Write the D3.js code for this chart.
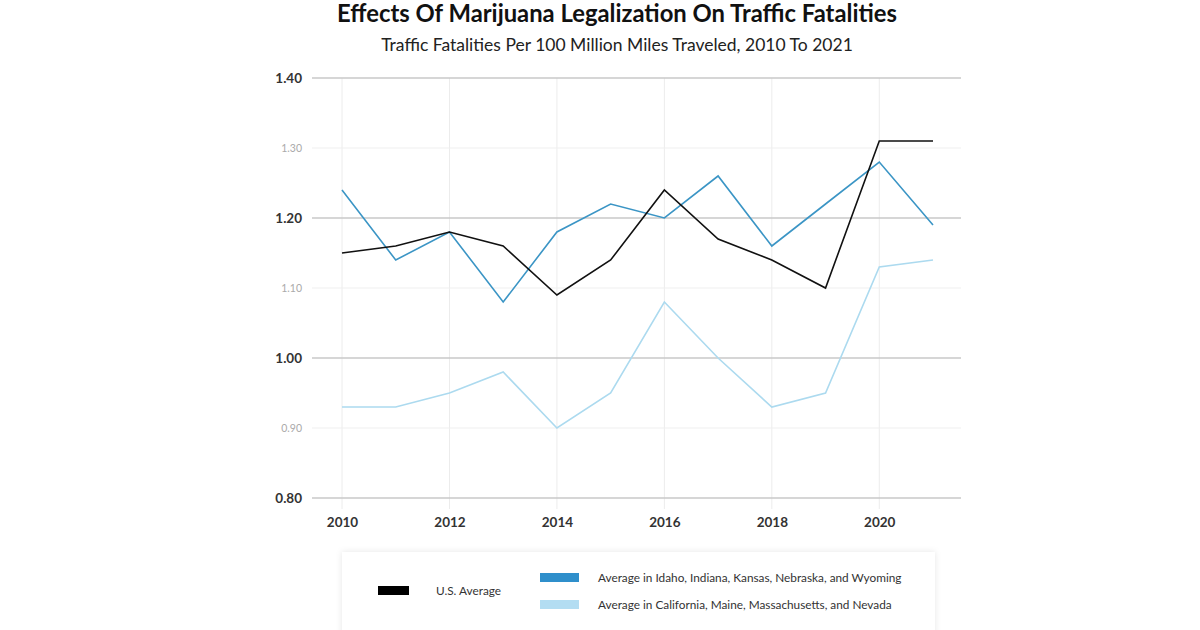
<!DOCTYPE html>
<html><head><meta charset="utf-8">
<script src="https://cdn.jsdelivr.net/npm/d3@7"></script>
<style>
html,body{margin:0;padding:0;background:#fff;}
svg{display:block;font-family:Lato,"Open Sans",sans-serif;}
</style></head>
<body><svg id="c" width="1200" height="630"></svg>
<script>
const years = [2010,2011,2012,2013,2014,2015,2016,2017,2018,2019,2020,2021];
const usAverage = [1.15,1.16,1.18,1.16,1.09,1.14,1.24,1.17,1.14,1.10,1.31,1.31];
const nonLegal = [1.24,1.14,1.18,1.08,1.18,1.22,1.20,1.26,1.16,1.22,1.28,1.19];
const legal = [0.93,0.93,0.95,0.98,0.90,0.95,1.08,1.00,0.93,0.95,1.13,1.14];
const yTicks = [0.80,0.90,1.00,1.10,1.20,1.30,1.40];
const xTicks = [2010,2012,2014,2016,2018,2020];
const seriesNames = ["U.S. Average","Average in Idaho, Indiana, Kansas, Nebraska, and Wyoming","Average in California, Maine, Massachusetts, and Nevada"];
const title = "Effects Of Marijuana Legalization On Traffic Fatalities";
const subtitle = "Traffic Fatalities Per 100 Million Miles Traveled, 2010 To 2021";

const svg = d3.select("#c");
const x = d3.scaleLinear().domain([2010,2021]).range([342,933]);
const y = d3.scaleLinear().domain([0.8,1.4]).range([498,78]);

svg.append("text").attr("x",617).attr("y",22).attr("text-anchor","middle")
  .attr("font-size",23.8).attr("font-weight",700).attr("fill","#111").text(title);
svg.append("text").attr("x",617).attr("y",51).attr("text-anchor","middle")
  .attr("font-size",17.5).attr("fill","#222").text(subtitle);

const isMajor = v => Math.round(v*10)%2===0;

// vertical gridlines
svg.append("g").selectAll("line").data(xTicks).join("line")
  .attr("x1",d=>x(d)).attr("x2",d=>x(d)).attr("y1",78).attr("y2",509)
  .attr("stroke","#ececec").attr("stroke-width",1);

// horizontal gridlines
svg.append("g").selectAll("line").data(yTicks).join("line")
  .attr("x1",312).attr("x2",961).attr("y1",d=>y(d)).attr("y2",d=>y(d))
  .attr("stroke",d=>isMajor(d)?"#c8c8c8":"#efefef").attr("stroke-width",d=>isMajor(d)?1.3:1);

// y axis labels
const ya = svg.append("g").attr("transform","translate(302,0)")
  .call(d3.axisLeft(y).tickValues(yTicks).tickSize(0).tickPadding(0).tickFormat(d3.format(".2f")));
ya.select(".domain").remove();
ya.selectAll("text").attr("font-family","Lato,sans-serif")
  .attr("font-size",d=>isMajor(d)?13.5:10.5)
  .attr("font-weight",d=>isMajor(d)?700:400)
  .attr("fill",d=>isMajor(d)?"#333":"#aaa");

// x axis labels
const xa = svg.append("g").attr("transform","translate(0,517)")
  .call(d3.axisBottom(x).tickValues(xTicks).tickSize(0).tickPadding(0).tickFormat(d3.format("d")));
xa.select(".domain").remove();
xa.selectAll("text").attr("font-family","Lato,sans-serif").attr("font-size",13.5)
  .attr("font-weight",700).attr("fill","#333");

const line = d3.line().x((d,i)=>x(years[i])).y(d=>y(d));
const series = [
  {vals:legal,color:"#acdaef",w:1.6},
  {vals:nonLegal,color:"#3b95c5",w:1.6},
  {vals:usAverage,color:"#111",w:1.6}
];
svg.append("g").selectAll("path").data(series).join("path")
  .attr("d",d=>line(d.vals)).attr("fill","none")
  .attr("stroke",d=>d.color).attr("stroke-width",d=>d.w).attr("stroke-linejoin","miter");

// legend
const defs = svg.append("defs");
const f = defs.append("filter").attr("id","sh").attr("x","-10%").attr("y","-30%").attr("width","120%").attr("height","160%");
f.append("feDropShadow").attr("dx",0).attr("dy",0).attr("stdDeviation",3).attr("flood-color","#000").attr("flood-opacity",0.1);
svg.append("rect").attr("x",342).attr("y",552).attr("width",593).attr("height",90)
  .attr("fill","#fff").attr("filter","url(#sh)");

const legendItems = [
  {name:seriesNames[0],color:"#000",rx:378,ry:586,tx:436,ty:595},
  {name:seriesNames[1],color:"#2f8fcb",rx:540,ry:573,tx:598,ty:582},
  {name:seriesNames[2],color:"#b3ddf2",rx:540,ry:600,tx:598,ty:609}
];
const lg = svg.append("g").selectAll("g").data(legendItems).join("g");
lg.append("rect").attr("x",d=>d.rx).attr("y",d=>d.ry).attr("width",d=>d.rx===378?31:39).attr("height",9).attr("fill",d=>d.color);
lg.append("text").attr("x",d=>d.tx).attr("y",d=>d.ty).attr("font-size",11.8).attr("fill","#333").text(d=>d.name);
</script></body></html>
